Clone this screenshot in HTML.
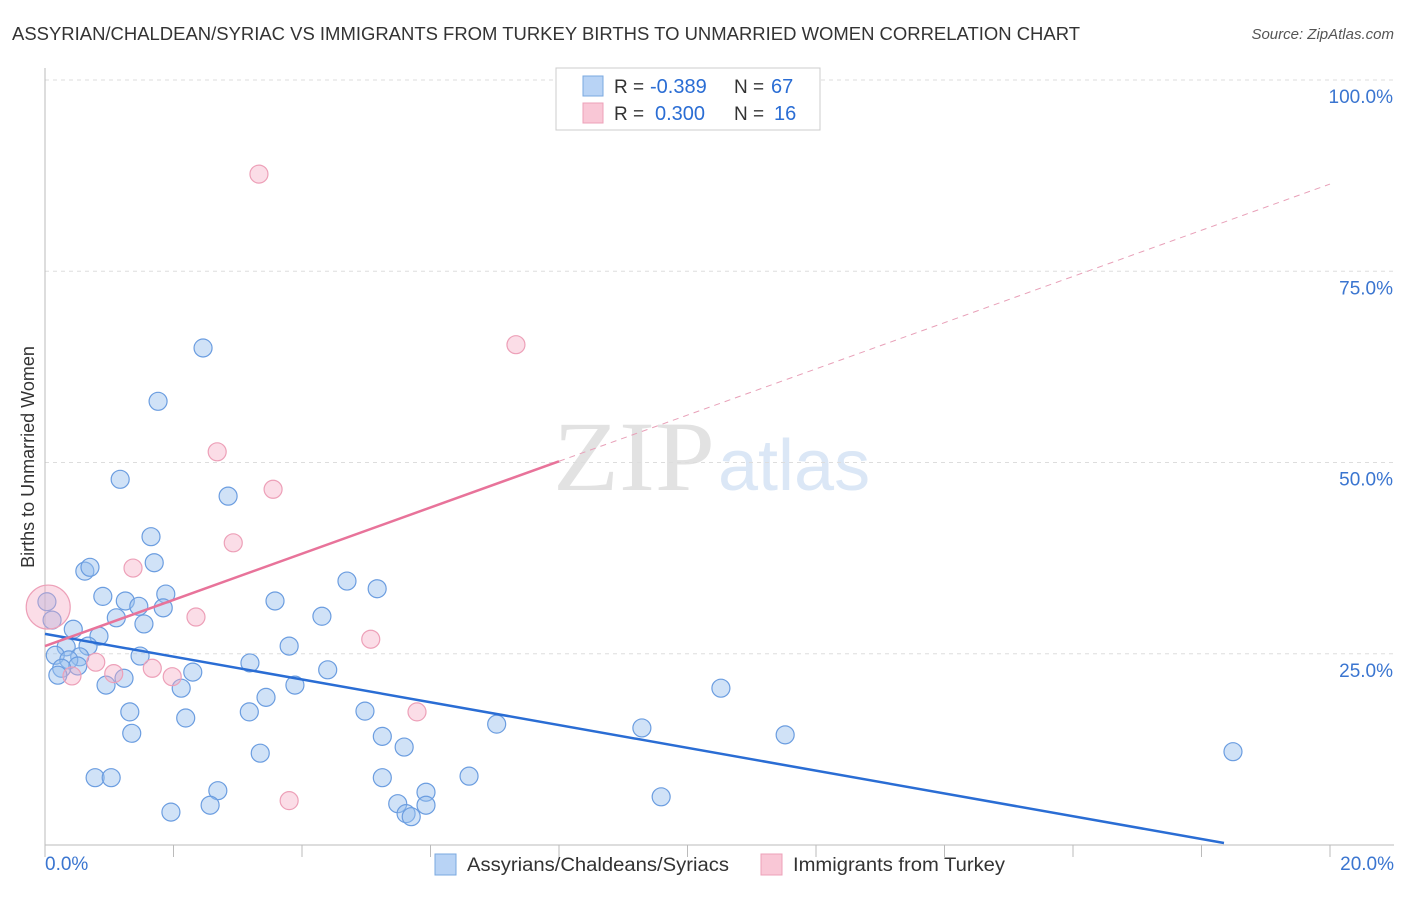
<!DOCTYPE html>
<html><head><meta charset="utf-8"><style>
body{margin:0;background:#fff;font-family:"Liberation Sans",sans-serif}
</style></head><body>
<svg width="1406" height="892" id="c" font-family="Liberation Sans, sans-serif">
<text x="12" y="40" font-size="18" fill="#333" textLength="1068" lengthAdjust="spacingAndGlyphs">ASSYRIAN/CHALDEAN/SYRIAC VS IMMIGRANTS FROM TURKEY BIRTHS TO UNMARRIED WOMEN CORRELATION CHART</text>
<text x="1394" y="39" font-size="15" fill="#555" text-anchor="end" font-style="italic">Source: ZipAtlas.com</text>
<text x="553" y="490" font-size="100" fill="#e2e2e2" style="font-family:'Liberation Serif',serif" textLength="162" lengthAdjust="spacingAndGlyphs">ZIP</text>
<text x="718" y="490" font-size="72" fill="#dbe7f6">atlas</text>
<text transform="translate(34,457) rotate(-90)" font-size="18" fill="#333" text-anchor="middle">Births to Unmarried Women</text>
<g id="grid"></g><g id="pts"></g><g id="lines"></g>
<g>
<rect x="556" y="68" width="264" height="62" fill="#fff" stroke="#ccc"/>
<rect x="583" y="76" width="20" height="20" fill="#b8d3f5" stroke="#7aa8e0"/>
<rect x="583" y="103" width="20" height="20" fill="#f9c7d6" stroke="#eda0b8"/>
<text x="614" y="93" font-size="19" fill="#333">R =</text>
<text x="650" y="93" font-size="20" fill="#2a6dd4">-0.389</text>
<text x="734" y="93" font-size="19" fill="#333">N =</text>
<text x="771" y="93" font-size="20" fill="#2a6dd4">67</text>
<text x="614" y="120" font-size="19" fill="#333">R =</text>
<text x="655" y="120" font-size="20" fill="#2a6dd4">0.300</text>
<text x="734" y="120" font-size="19" fill="#333">N =</text>
<text x="774" y="120" font-size="20" fill="#2a6dd4">16</text>
</g>
<g>
<rect x="435" y="854" width="21" height="21" fill="#b8d3f5" stroke="#7aa8e0"/>
<text x="467" y="871" font-size="19" fill="#333" textLength="262" lengthAdjust="spacingAndGlyphs">Assyrians/Chaldeans/Syriacs</text>
<rect x="761" y="854" width="21" height="21" fill="#f9c7d6" stroke="#eda0b8"/>
<text x="793" y="871" font-size="19" fill="#333" textLength="212" lengthAdjust="spacingAndGlyphs">Immigrants from Turkey</text>
</g>
</svg>
<script>
const yTicks=[25,50,75,100];
const yTickLabels=["25.0%","50.0%","75.0%","100.0%"];
const xTickLabels=["0.0%","20.0%"];
const blueX=[2.46,1.76,1.17,2.85,1.65,1.70,0.62,0.70,0.90,1.25,1.46,1.88,1.84,1.11,1.54,0.11,0.03,0.44,0.84,0.67,0.33,0.16,0.54,0.37,0.51,0.26,0.20,1.23,0.95,1.48,2.12,2.30,3.19,3.44,3.89,3.80,3.58,4.31,4.70,5.17,4.40,3.18,2.19,1.32,1.35,4.98,5.25,5.59,7.03,3.35,0.78,1.03,2.69,2.57,1.96,5.25,5.49,5.62,5.70,5.93,5.93,6.60,9.29,10.52,11.52,9.59,18.49];
const blueY=[64.97,58.0,47.8,45.6,40.3,36.9,35.8,36.3,32.5,31.9,31.2,32.8,31.0,29.7,28.9,29.4,31.8,28.2,27.3,26.0,25.9,24.8,24.6,24.2,23.4,23.1,22.2,21.8,20.9,24.7,20.5,22.6,23.8,19.3,20.9,26.0,31.9,29.9,34.5,33.5,22.9,17.4,16.6,17.4,14.6,17.5,14.2,12.8,15.8,12.0,8.8,8.8,7.1,5.2,4.3,8.8,5.4,4.1,3.7,6.9,5.2,9.0,15.3,20.5,14.4,6.3,12.2];
const pinkX=[3.33,7.33,2.68,3.55,2.93,1.37,2.35,5.07,0.79,1.67,1.07,1.98,0.42,5.79,3.80,0.05];
const pinkY=[87.7,65.4,51.4,46.5,39.5,36.2,29.8,26.9,23.9,23.1,22.4,22.0,22.1,17.4,5.8,31.1];
const pinkR=[9,9,9,9,9,9,9,9,9,9,9,9,9,9,9,22];
const blueFit=[27.6,-1.49], pinkFit=[26.0,3.02];
const X=v=>45+v/20*1285, Y=v=>845-v/100*765;
const NS="http://www.w3.org/2000/svg";
function mk(p,t,a){const e=document.createElementNS(NS,t);for(const k in a)e.setAttribute(k,a[k]);p.appendChild(e);return e;}
const g=document.getElementById('grid');
yTicks.forEach((t,i)=>{
 const l=mk(g,'line',{x1:45,x2:1394,y1:Y(t),y2:Y(t),stroke:'#ddd','stroke-dasharray':'4,4'});
 
 
 const tx=mk(g,'text',{x:1393,y:Y(t)+23,'font-size':19,fill:'#3a75d0','text-anchor':'end'});
 tx.textContent=yTickLabels[i];
 
 
});
const ax=mk(g,'line',{x1:45,x2:45,y1:68,y2:845,stroke:'#bbb'});


const bx=mk(g,'line',{x1:45,x2:1394,y1:845,y2:845,stroke:'#bbb'});


for(let i=0;i<=10;i++){const t=mk(g,'line',{x1:X(i*2),x2:X(i*2),y1:845,y2:857,stroke:'#bbb'});
 
 }
[[0,'start',45],[20,'end',1394]].forEach((a,i)=>{const t=mk(g,'text',{x:a[2],y:870,'font-size':19,fill:'#3a75d0','text-anchor':a[1]});t.textContent=xTickLabels[i];
 
 });
const p=document.getElementById('pts');
blueX.forEach((x,i)=>{const c=mk(p,'circle',{cx:X(x),cy:Y(blueY[i]),r:9,fill:'rgba(150,190,238,0.45)',stroke:'#6b9de0','stroke-width':1.2});
 
 });
pinkX.forEach((x,i)=>{const c=mk(p,'circle',{cx:X(x),cy:Y(pinkY[i]),r:pinkR[i],fill:'rgba(245,170,195,0.4)',stroke:'#eda0b8','stroke-width':1.2});
 
 });
const L=document.getElementById('lines');
const bEnd=18.35;
const bl=mk(L,'line',{x1:X(0),y1:Y(blueFit[0]),x2:X(bEnd),y2:Y(blueFit[0]+blueFit[1]*bEnd),stroke:'#2a6dd4','stroke-width':2.5});


const pl=mk(L,'line',{x1:X(0),y1:Y(pinkFit[0]),x2:X(8),y2:Y(pinkFit[0]+pinkFit[1]*8),stroke:'#e8739a','stroke-width':2.5});


const pd=mk(L,'line',{x1:X(8),y1:Y(pinkFit[0]+pinkFit[1]*8),x2:X(20),y2:Y(pinkFit[0]+pinkFit[1]*20),stroke:'#e8a0b8','stroke-width':1,'stroke-dasharray':'6,5'});


</script>
</body></html>
